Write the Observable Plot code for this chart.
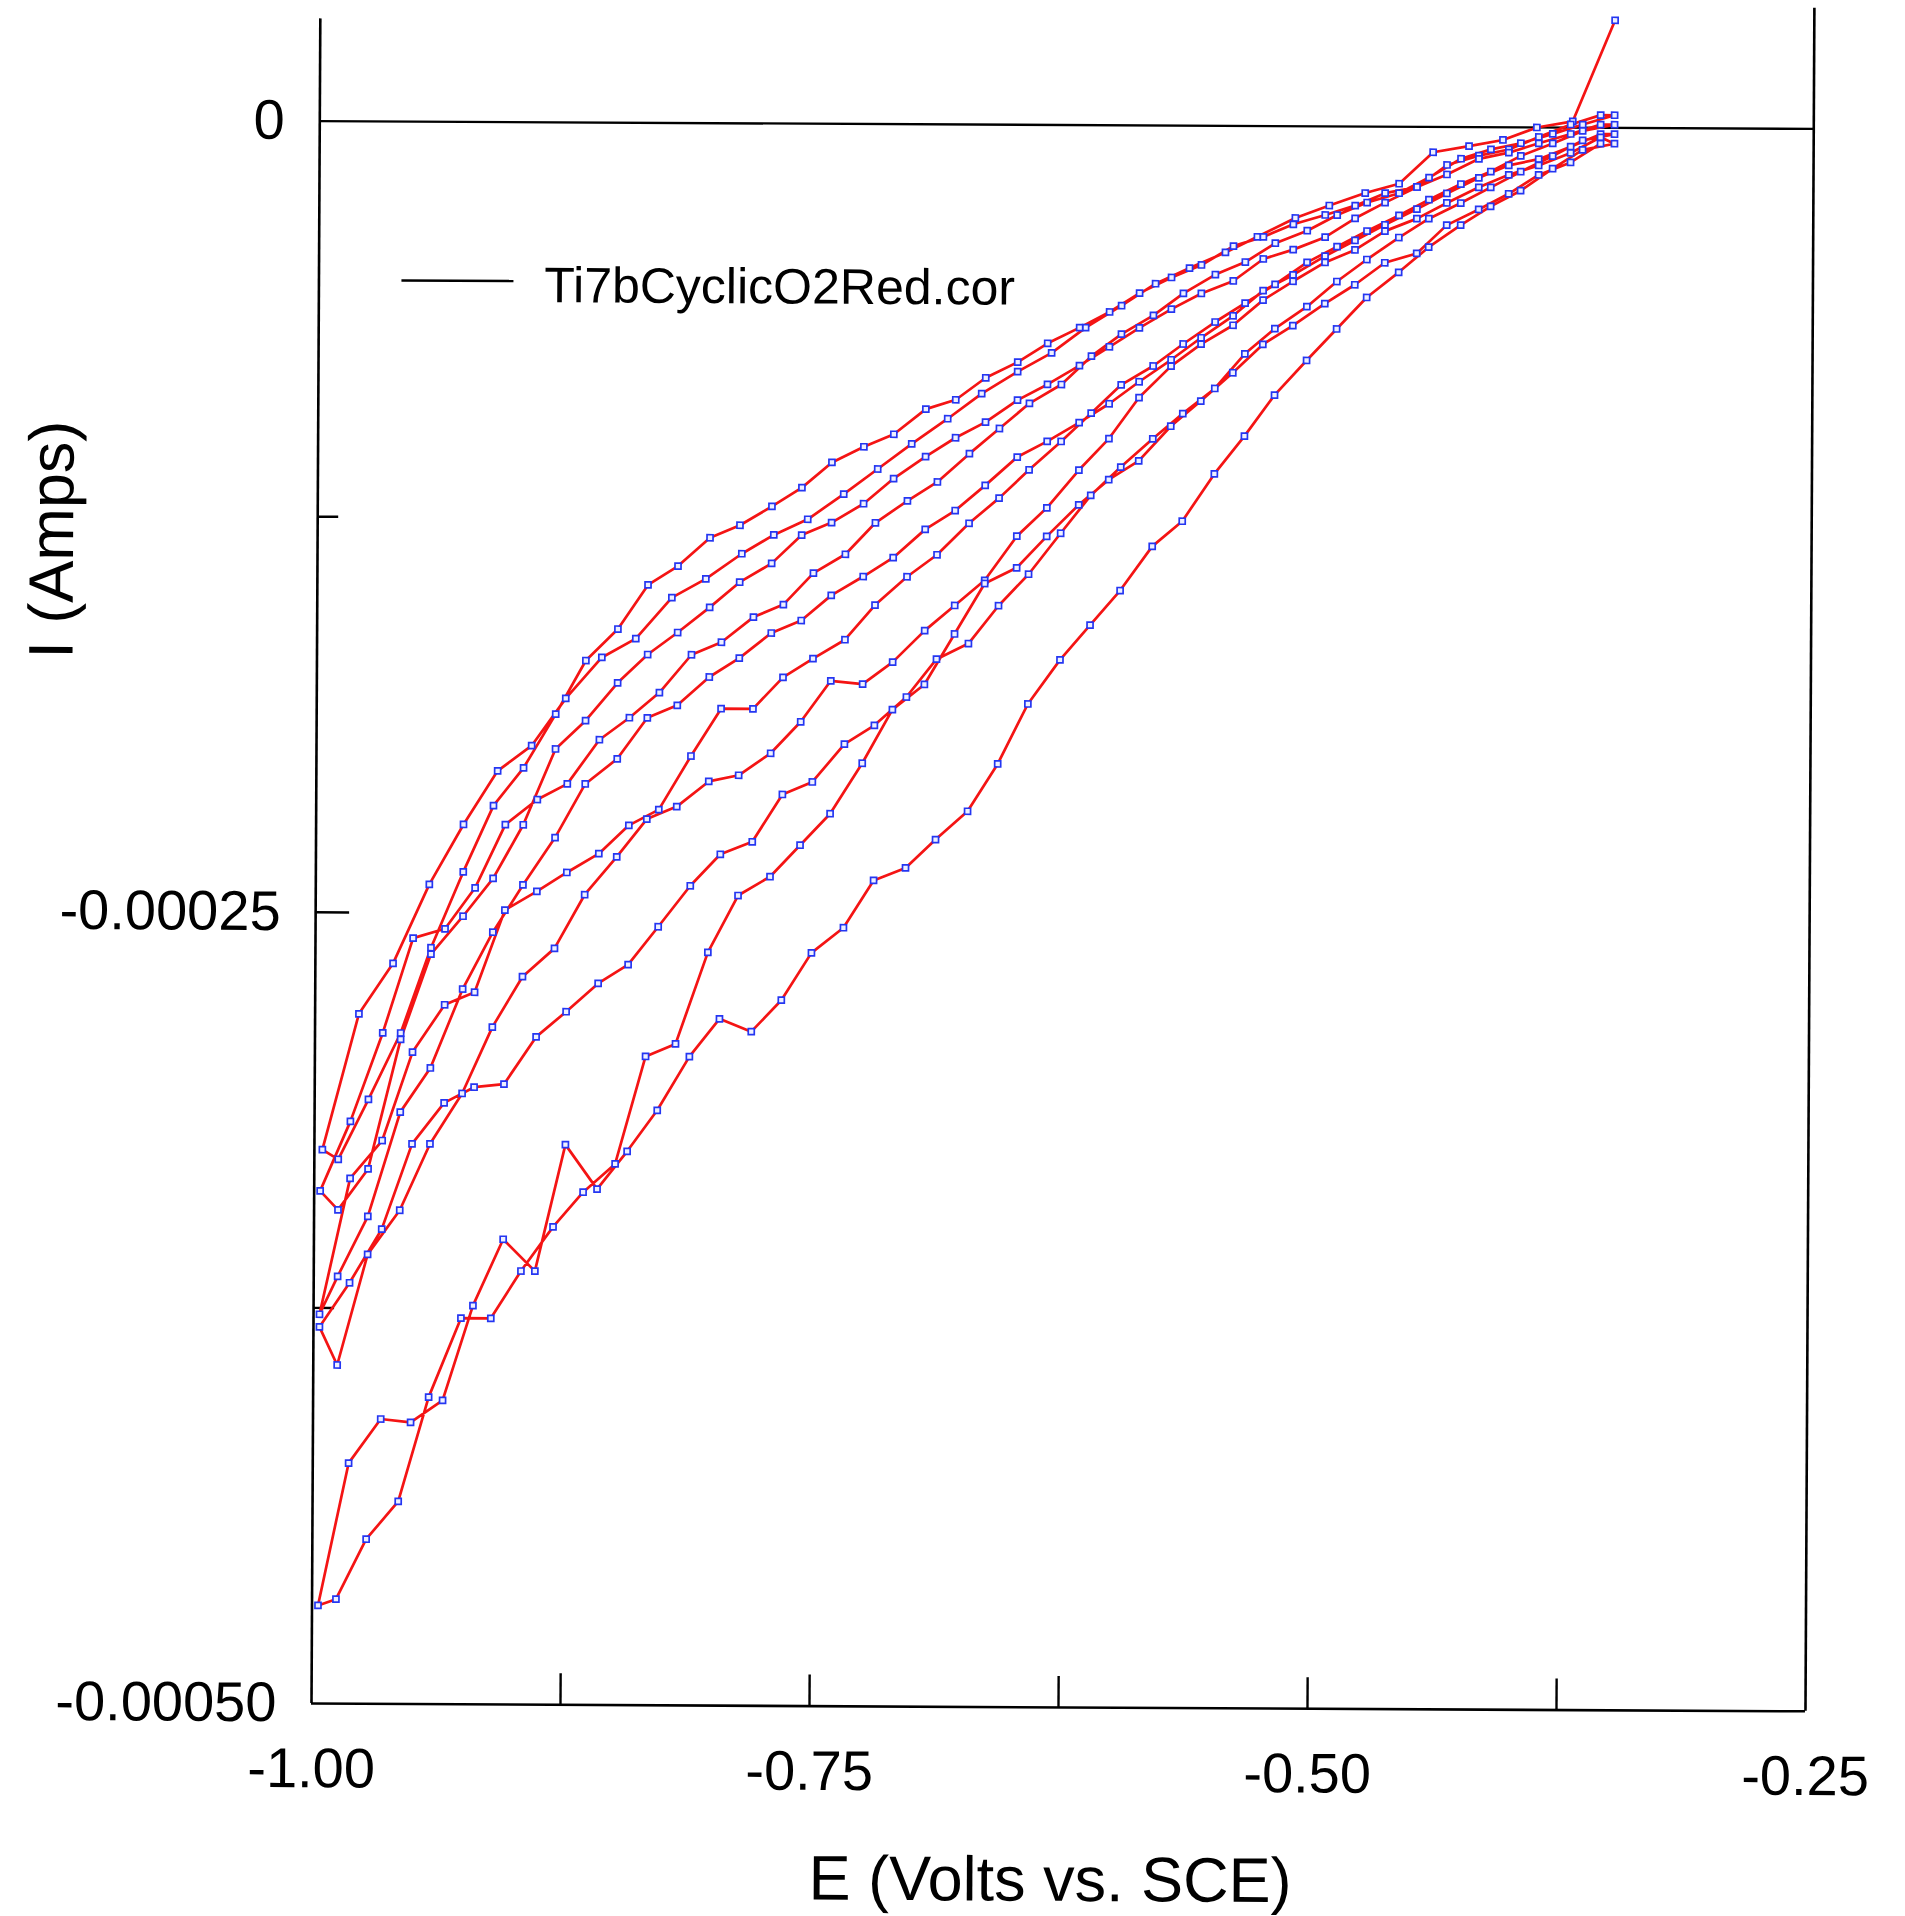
<!DOCTYPE html>
<html>
<head>
<meta charset="utf-8">
<script src="https://cdn.jsdelivr.net/npm/d3@7"></script>
<script src="https://cdn.jsdelivr.net/npm/@observablehq/plot@0.6"></script>
<style>
  html, body { margin: 0; padding: 0; background: #ffffff; overflow: hidden; }
  #chart { width: 1905px; height: 1916px; }
</style>
</head>
<body>
<div id="chart"></div>
<script>
// ---------------- DATA (E in volts vs. SCE, I in microamps) ----------------
// potentials of the points of cathodic sweeps (cycles 2-5) and anodic sweeps
const potentialsCathodic = [-0.997,-0.982,-0.966,-0.951,-0.935,-0.920,-0.905,-0.889,-0.874,-0.858,-0.843,-0.828,-0.812,-0.797,-0.781,-0.766,-0.751,-0.735,-0.720,-0.704,-0.689,-0.673,-0.658,-0.643,-0.627,-0.612,-0.597,-0.581,-0.566,-0.550,-0.535,-0.520,-0.504,-0.489,-0.474,-0.458,-0.443,-0.427,-0.412,-0.397,-0.381,-0.366,-0.350];
const potentialsAnodic = [-0.988,-0.973,-0.957,-0.942,-0.926,-0.911,-0.896,-0.880,-0.865,-0.849,-0.834,-0.819,-0.803,-0.788,-0.772,-0.757,-0.742,-0.726,-0.711,-0.695,-0.680,-0.665,-0.649,-0.634,-0.618,-0.603,-0.588,-0.572,-0.557,-0.541,-0.526,-0.511,-0.495,-0.480,-0.465,-0.449,-0.434,-0.418,-0.403,-0.388,-0.372,-0.357];

// first (cathodic) sweep, starting at the top-right point
const cycle1CathodicE = [-0.996,-0.978,-0.961,-0.943,-0.926,-0.909,-0.892,-0.875,-0.857,-0.840,-0.822,-0.805,-0.787,-0.771,-0.754,-0.736,-0.719,-0.702,-0.684,-0.667,-0.649,-0.632,-0.615,-0.597,-0.580,-0.563,-0.545,-0.529,-0.510,-0.493,-0.475,-0.458,-0.441,-0.423,-0.406,-0.389,-0.371,-0.350];
const cycle1CathodicI = [-325,-282,-266,-241,-222,-205,-197,-182,-169,-163,-150,-144,-136,-130,-125,-117,-109,-101,-93,-85,-78,-72,-64,-57,-50,-45,-40,-35,-29,-25,-21,-18,-8,-6,-4,0,2,34];

const cycle1AnodicI = [-328,-309,-288,-261,-237,-216,-204,-187,-170,-160,-146,-140,-131,-127,-121,-115,-107,-102,-98,-90,-87,-80,-75,-69,-64,-59,-53,-48,-44,-38,-35,-31,-28,-25,-21,-19,-12,-9,-7,-3,1,4];
const cycle2CathodicI = [-338,-316,-288,-258,-255,-242,-222,-214,-209,-195,-188,-180,-168,-164,-156,-152,-142,-136,-126,-119,-113,-104,-96,-88,-82,-73,-66,-60,-53,-47,-43,-37,-33,-28,-24,-21,-16,-10,-7,-5,-2,1,4];
const cycle2AnodicI = [-344,-331,-290,-263,-251,-239,-222,-198,-189,-177,-168,-161,-153,-145,-139,-130,-126,-120,-112,-105,-99,-94,-87,-82,-76,-70,-64,-58,-53,-49,-42,-39,-35,-29,-24,-19,-15,-10,-8,-5,-2,1];
const cycle3CathodicI = [-377,-334,-322,-294,-279,-275,-249,-243,-237,-231,-222,-217,-200,-185,-185,-175,-169,-163,-152,-143,-136,-126,-118,-109,-100,-91,-82,-76,-69,-62,-56,-50,-43,-38,-33,-28,-23,-18,-14,-9,-5,-1,1];
const cycle3AnodicI = [-365,-346,-313,-299,-274,-256,-241,-226,-209,-201,-188,-184,-175,-169,-161,-157,-149,-143,-137,-128,-122,-114,-105,-100,-94,-88,-81,-74,-67,-60,-52,-47,-41,-36,-31,-26,-21,-16,-12,-10,-6,-2];
const cycle4CathodicI = [-381,-367,-350,-323,-310,-305,-304,-289,-281,-272,-266,-254,-241,-231,-227,-212,-208,-196,-190,-181,-169,-164,-152,-142,-129,-117,-108,-99,-91,-83,-72,-64,-57,-49,-42,-35,-29,-24,-19,-14,-9,-4,-2];
const cycle4AnodicI = [-393,-358,-344,-323,-307,-286,-270,-261,-244,-232,-220,-216,-208,-206,-199,-189,-176,-177,-170,-160,-152,-144,-130,-121,-109,-99,-86,-76,-69,-63,-55,-49,-43,-39,-33,-29,-24,-19,-15,-12,-8,-3];
const cycle5CathodicI = [-469,-424,-410,-411,-404,-374,-353,-363,-323,-337,-325,-312,-295,-283,-287,-277,-262,-254,-239,-235,-226,-217,-202,-183,-169,-158,-147,-133,-125,-110,-98,-85,-74,-64,-54,-46,-38,-31,-25,-20,-13,-7,-5];
const cycle5AnodicI = [-467,-448,-436,-403,-378,-378,-363,-349,-338,-329,-295,-291,-262,-244,-238,-228,-218,-202,-185,-177,-161,-145,-140,-130,-120,-112,-106,-95,-87,-78,-69,-63,-56,-50,-43,-40,-31,-26,-21,-15,-11,-5];

// axis ticks and labels
const xTicks = [-1.0, -0.875, -0.75, -0.625, -0.5, -0.375, -0.25];
const xLabelTicks = [-1.0, -0.75, -0.5, -0.25];
const yMajorTicks = [0, -0.00025, -0.0005];
const yMinorTicks = [-0.000125, -0.000375];
const legendLabel = "Ti7bCyclicO2Red.cor";
const xTitle = "E (Volts vs. SCE)";
const yTitle = "I (Amps)";

// ---------------- BUILD THE CONTINUOUS SCAN (time order) ----------------
const sweeps = [
  {e: cycle1CathodicE, i: cycle1CathodicI, dir: "cathodic"},
  {e: potentialsAnodic, i: cycle1AnodicI, dir: "anodic"},
  {e: potentialsCathodic, i: cycle2CathodicI, dir: "cathodic"},
  {e: potentialsAnodic, i: cycle2AnodicI, dir: "anodic"},
  {e: potentialsCathodic, i: cycle3CathodicI, dir: "cathodic"},
  {e: potentialsAnodic, i: cycle3AnodicI, dir: "anodic"},
  {e: potentialsCathodic, i: cycle4CathodicI, dir: "cathodic"},
  {e: potentialsAnodic, i: cycle4AnodicI, dir: "anodic"},
  {e: potentialsCathodic, i: cycle5CathodicI, dir: "cathodic"},
  {e: potentialsAnodic, i: cycle5AnodicI, dir: "anodic"}
];
const scan = [];
sweeps.forEach(s => {
  const pts = s.i.map((v, k) => ({E: s.e[k], I: v * 1e-6}));
  if (s.dir === "cathodic") pts.reverse();
  scan.push(...pts);
});

// ---------------- LAYOUT ----------------
const W = 1905, H = 1916;
const mL = 311, mR = 100, mT = 0, mB = 213;
const xDomain = [-1.0, -0.25];
const yDomain = [-0.0005, 0.0000381];
const pxPerA = (H - mT - mB) / (yDomain[1] - yDomain[0]);
const pxPerV = (W - mL - mR) / (xDomain[1] - xDomain[0]);
const xTickLen = 31 / pxPerA;      // inward tick length on the E axis (in amps)
const yMajorLen = 34 / pxPerV;     // inward tick lengths on the I axis (in volts)
const yMinorLen = 21 / pxPerV;
const leftAxisTop = 0.0000323;
const FONT = "'Liberation Sans', Arial, Helvetica, sans-serif";

const fmtX = d => "-" + Math.abs(d).toFixed(2);
const fmtY = d => d === 0 ? "0" : "-" + Math.abs(d).toFixed(5);

const fig = Plot.plot({
  width: W, height: H,
  marginLeft: mL, marginRight: mR, marginTop: mT, marginBottom: mB,
  style: {fontFamily: FONT, color: "#000", background: "#ffffff", overflow: "visible"},
  x: {domain: xDomain, label: null},
  y: {domain: yDomain, label: null},
  marks: [
    Plot.axisX({ticks: xLabelTicks, tickSize: 0, tickPadding: 44, tickFormat: fmtX, fontSize: 56, label: null}),
    Plot.axisY({ticks: yMajorTicks, tickSize: 0, tickPadding: 35, tickFormat: fmtY, fontSize: 56, label: null}),
    // frame lines
    Plot.ruleY([0], {stroke: "#000", strokeWidth: 2.4}),
    Plot.ruleY([-0.0005], {stroke: "#000", strokeWidth: 2.6}),
    Plot.ruleX([-1.0], {y1: -0.0005, y2: leftAxisTop, stroke: "#000", strokeWidth: 2.6}),
    Plot.ruleX([-0.25], {y1: -0.0005, y2: yDomain[1], stroke: "#000", strokeWidth: 2.6}),
    // inward tick marks
    Plot.ruleX(xTicks.slice(1, -1), {y1: -0.0005, y2: -0.0005 + xTickLen, stroke: "#000", strokeWidth: 2.4}),
    Plot.ruleY([-0.00025], {x1: -1.0, x2: -1.0 + yMajorLen, stroke: "#000", strokeWidth: 2.4}),
    Plot.ruleY(yMinorTicks, {x1: -1.0, x2: -1.0 + yMinorLen, stroke: "#000", strokeWidth: 2.4}),
    // data
    Plot.line(scan, {x: "E", y: "I", stroke: "#f41414", strokeWidth: 2.7, strokeLinejoin: "round"}),
    Plot.dot(scan, {x: "E", y: "I", symbol: "square", r: 3.4, stroke: "#2436f2", strokeWidth: 1.7, fill: "#eef0ff"})
  ]
});

const svg = d3.select(fig);
// legend (inside the plot, upper left)
svg.append("line")
  .attr("x1", 394).attr("x2", 506).attr("y1", 280).attr("y2", 280)
  .attr("stroke", "#000").attr("stroke-width", 2.4);
svg.append("text")
  .attr("x", 537).attr("y", 301)
  .attr("text-anchor", "start")
  .attr("font-family", FONT)
  .attr("font-size", 50).attr("fill", "#000")
  .text(legendLabel);
// axis titles
svg.append("text")
  .attr("x", 1051).attr("y", 1897)
  .attr("text-anchor", "middle")
  .attr("font-family", FONT)
  .attr("font-size", 63).attr("fill", "#000")
  .text(xTitle);
svg.append("text")
  .attr("transform", "translate(67,541) rotate(-90)")
  .attr("text-anchor", "middle")
  .attr("font-family", FONT)
  .attr("font-size", 63).attr("fill", "#000")
  .text(yTitle);

// the scanned original sits very slightly rotated clockwise on the page
fig.style.transformOrigin = mL + "px " + (H - mB) + "px";
fig.style.transform = "rotate(0.3deg)";

document.getElementById("chart").appendChild(fig);
</script>
</body>
</html>
